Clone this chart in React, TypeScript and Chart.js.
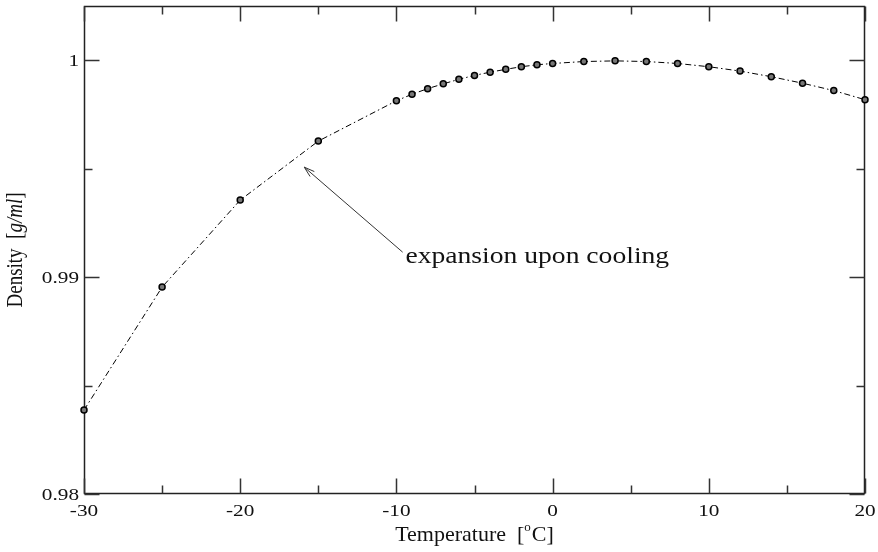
import { useEffect, useRef } from "react";
import { Chart, registerables } from "chart.js";

Chart.register(...registerables);

// ---- data ----
const temperatures = [-30, -25, -20, -15, -10, -9, -8, -7, -6, -5, -4, -3, -2, -1, 0, 2, 4, 6, 8, 10, 12, 14, 16, 18, 20];
const densities = [
  0.98387, 0.98954, 0.99355, 0.99627, 0.99813, 0.99843, 0.99869, 0.99891, 0.99912, 0.9993, 0.99945, 0.99958,
  0.9997, 0.99979, 0.99985, 0.99994, 0.99997, 0.99994, 0.99985, 0.9997, 0.9995, 0.99924, 0.99894, 0.9986, 0.99818,
];
const xMajorTicks = [-30, -20, -10, 0, 10, 20];
const xMinorTicks = [-25, -15, -5, 5, 15];
const xTickLabels = ["-30", "-20", "-10", "0", "10", "20"];
const yMajorTicks = [0.98, 0.99, 1.0];
const yMinorTicks = [0.985, 0.995];
const yTickLabels = ["0.98", "0.99", "1"];
const annotationText = "expansion upon cooling";
const arrowTail = { x: -9.6, y: 0.99115 };
const arrowTip = { x: -15.9, y: 0.99507 };
const annotationAnchor = { x: -9.42, y: 0.99065 };

const SERIF = '"Liberation Serif", "Times New Roman", serif';
const INK = "#111";

function drawStretched(ctx: CanvasRenderingContext2D, text: string, x: number, y: number, font: string, sx: number, align: CanvasTextAlign, baseline: CanvasTextBaseline) {
  ctx.save();
  ctx.font = font;
  ctx.fillStyle = INK;
  ctx.textAlign = align;
  ctx.textBaseline = baseline;
  ctx.translate(x, y);
  ctx.scale(sx, 1);
  ctx.fillText(text, 0, 0);
  ctx.restore();
}

const framePlugin = {
  id: "xmgraceFrame",
  beforeDatasetsDraw(chart: any) {
    const { ctx, chartArea: a, scales } = chart;
    const xs = scales.x;
    const ys = scales.y;
    const L = Math.round(a.left) + 0.5;
    const R = Math.round(a.right) - 0.5;
    const T = Math.round(a.top) + 0.5;
    const B = Math.round(a.bottom) - 0.5;
    ctx.save();
    ctx.strokeStyle = "#222";
    ctx.lineWidth = 1.5;
    ctx.strokeRect(L, T, R - L, B - T);
    ctx.lineWidth = 1.5;
    ctx.strokeStyle = "#333";
    const major = 15;
    const minor = 8;
    ctx.beginPath();
    const xt = (v: number, len: number) => {
      const px = Math.round(xs.getPixelForValue(v)) + 0.5;
      ctx.moveTo(px, B);
      ctx.lineTo(px, B - len);
      ctx.moveTo(px, T);
      ctx.lineTo(px, T + len);
    };
    const yt = (v: number, len: number) => {
      const py = Math.round(ys.getPixelForValue(v)) + 0.5;
      ctx.moveTo(L, py);
      ctx.lineTo(L + len, py);
      ctx.moveTo(R, py);
      ctx.lineTo(R - len, py);
    };
    xMajorTicks.forEach((v) => xt(v, major));
    xMinorTicks.forEach((v) => xt(v, minor));
    yMajorTicks.forEach((v) => yt(v, major));
    yMinorTicks.forEach((v) => yt(v, minor));
    ctx.stroke();
    ctx.restore();
  },
  afterDraw(chart: any) {
    const { ctx, chartArea: a, scales } = chart;
    const xs = scales.x;
    const ys = scales.y;
    const tickFont = `17px ${SERIF}`;
    const tickSx = 1.25;
    // x tick labels
    xMajorTicks.forEach((v, i) => {
      drawStretched(ctx, xTickLabels[i], xs.getPixelForValue(v), a.bottom + 22, tickFont, tickSx, "center", "alphabetic");
    });
    // y tick labels
    yMajorTicks.forEach((v, i) => {
      drawStretched(ctx, yTickLabels[i], a.left - 5, ys.getPixelForValue(v) + 1.5, tickFont, tickSx, "right", "middle");
    });

    // x axis title: Temperature  [°C]
    ctx.save();
    ctx.fillStyle = INK;
    ctx.textBaseline = "alphabetic";
    ctx.textAlign = "left";
    const tFont = `22px ${SERIF}`;
    const supFont = `13px ${SERIF}`;
    ctx.font = tFont;
    const p1 = "Temperature  [";
    const p3 = "C]";
    const w1 = ctx.measureText(p1).width;
    const w3 = ctx.measureText(p3).width;
    ctx.font = supFont;
    const w2 = ctx.measureText("o").width + 1;
    const total = w1 + w2 + w3;
    const x0 = (a.left + a.right) / 2 - total / 2;
    const by = a.bottom + 47;
    ctx.font = tFont;
    ctx.fillText(p1, x0, by);
    ctx.font = supFont;
    ctx.fillText("o", x0 + w1, by - 10);
    ctx.font = tFont;
    ctx.fillText(p3, x0 + w1 + w2, by);
    ctx.restore();

    // y axis title: Density  [g/ml]
    ctx.save();
    ctx.fillStyle = INK;
    ctx.textBaseline = "alphabetic";
    ctx.textAlign = "left";
    const yFont = `19px ${SERIF}`;
    const yItal = `italic 19px ${SERIF}`;
    ctx.font = yFont;
    const q1 = "Density  [";
    const q3 = "]";
    const v1 = ctx.measureText(q1).width;
    const v3 = ctx.measureText(q3).width;
    ctx.font = yItal;
    const q2 = "g/ml";
    const v2 = ctx.measureText(q2).width;
    const tot = v1 + v2 + v3;
    ctx.translate(22, (a.top + a.bottom) / 2);
    ctx.scale(1.2, 1);
    ctx.rotate(-Math.PI / 2);
    const s = -tot / 2;
    ctx.font = yFont;
    ctx.fillText(q1, s, 0);
    ctx.font = yItal;
    ctx.fillText(q2, s + v1, 0);
    ctx.font = yFont;
    ctx.fillText(q3, s + v1 + v2, 0);
    ctx.restore();

    // annotation arrow
    const tx = xs.getPixelForValue(arrowTail.x);
    const ty = ys.getPixelForValue(arrowTail.y);
    const hx = xs.getPixelForValue(arrowTip.x);
    const hy = ys.getPixelForValue(arrowTip.y);
    const ang = Math.atan2(ty - hy, tx - hx);
    const hl = 11;
    const spread = 0.3;
    ctx.save();
    ctx.strokeStyle = "#333";
    ctx.lineWidth = 1;
    ctx.beginPath();
    ctx.moveTo(tx, ty);
    ctx.lineTo(hx, hy);
    ctx.moveTo(hx + hl * Math.cos(ang + spread), hy + hl * Math.sin(ang + spread));
    ctx.lineTo(hx, hy);
    ctx.lineTo(hx + hl * Math.cos(ang - spread), hy + hl * Math.sin(ang - spread));
    ctx.stroke();
    ctx.restore();

    drawStretched(
      ctx,
      annotationText,
      xs.getPixelForValue(annotationAnchor.x),
      ys.getPixelForValue(annotationAnchor.y),
      `23px ${SERIF}`,
      1.2,
      "left",
      "alphabetic"
    );
  },
};

export default function App() {
  const ref = useRef<HTMLCanvasElement | null>(null);
  useEffect(() => {
    if (!ref.current) return;
    const chart = new Chart(ref.current, {
      type: "line",
      data: {
        datasets: [
          {
            data: temperatures.map((t, i) => ({ x: t, y: densities[i] })),
            borderColor: "#000",
            borderWidth: 1,
            borderDash: [6, 3, 1.5, 3],
            pointRadius: 3,
            pointBackgroundColor: "#777",
            pointBorderColor: "#000",
            pointBorderWidth: 1.5,
            tension: 0,
            fill: false,
            clip: false,
          } as any,
        ],
      },
      options: {
        animation: false,
        responsive: true,
        maintainAspectRatio: false,
        layout: { padding: { top: 6, right: 13, left: 0, bottom: 0 } },
        plugins: { legend: { display: false }, tooltip: { enabled: false } },
        scales: {
          x: {
            type: "linear",
            min: -30,
            max: 20,
            ticks: { stepSize: 10, display: false },
            grid: { display: false },
            border: { display: false },
            afterFit: (s: any) => {
              s.height = 58;
            },
          },
          y: {
            type: "linear",
            min: 0.98,
            max: 1.0025,
            ticks: { stepSize: 0.01, display: false, includeBounds: false },
            grid: { display: false },
            border: { display: false },
            afterFit: (s: any) => {
              s.width = 84;
            },
          },
        },
      } as any,
      plugins: [framePlugin],
    });
    return () => chart.destroy();
  }, []);
  return (
    <div style={{ position: "fixed", left: 0, top: 0, width: 878, height: 552, background: "#fff" }}>
      <canvas ref={ref} />
    </div>
  );
}
